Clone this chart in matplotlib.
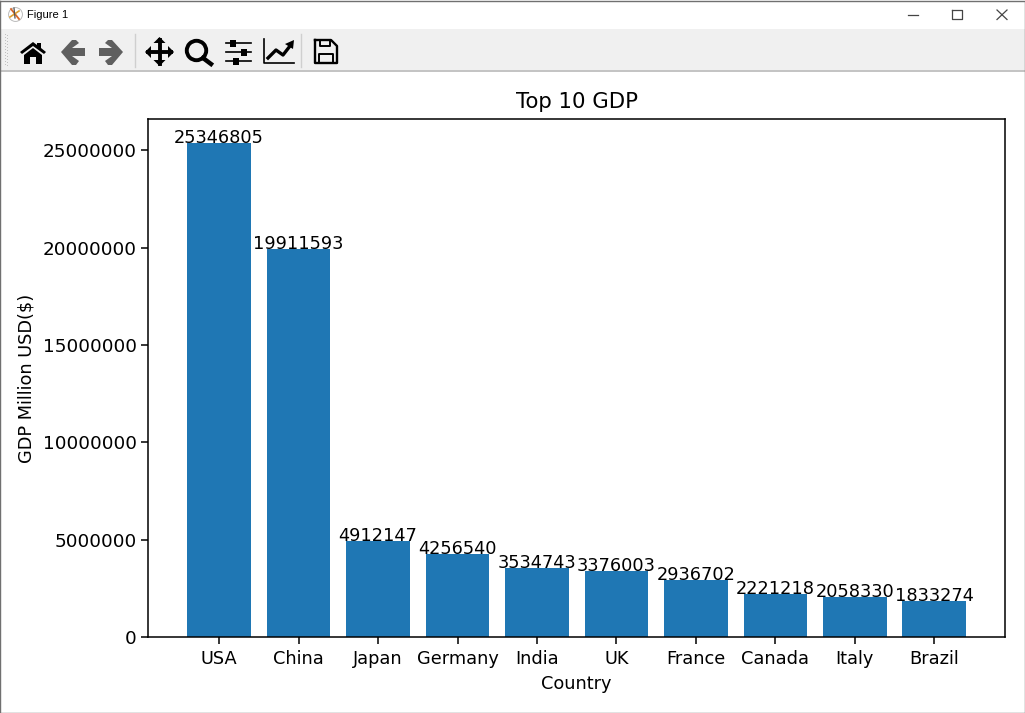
import matplotlib
matplotlib.use('Agg')
from matplotlib import pyplot as plt
from matplotlib.patches import Rectangle, Polygon

countries = ['USA', 'China', 'Japan', 'Germany', 'India', 'UK', 'France', 'Canada', 'Italy', 'Brazil']
gdp = [25346805, 19911593, 4912147, 4256540, 3534743, 3376003, 2936702, 2221218, 2058330, 1833274]

W = 1025
H = 713

plt.rcParams['font.size'] = 12.8

fig = plt.figure(figsize=(W / 100, H / 100), dpi=100, facecolor='white')
ax = fig.add_axes([148.4 / W, 1 - 637 / H, (1005 - 148.4) / W, (637 - 118.8) / H])

ax.bar(countries, gdp)
for i in range(len(countries)):
    ax.text(i, gdp[i], str(gdp[i]), ha='center', fontsize=12.8)

ax.ticklabel_format(axis='y', style='plain')
ax.set_title('Top 10 GDP', fontsize=15.3, pad=8)
ax.set_xlabel('Country', labelpad=5)
ax.set_ylabel('GDP Million USD($)', labelpad=5)
ax.tick_params(length=4.9, width=1.1)
ax.tick_params(axis='x', pad=4.2)
ax.tick_params(axis='y', labelsize=13.2)
for s in ax.spines.values():
    s.set_linewidth(1.1)


def px_rect(x, y, w, h, color):
    fig.add_artist(Rectangle((x / W, 1 - (y + h) / H), w / W, h / H, transform=fig.transFigure,
                             facecolor=color, edgecolor='none'))


def px_line(xs, ys, color='black', lw=1.0):
    fig.add_artist(plt.Line2D([x / W for x in xs], [1 - y / H for y in ys], transform=fig.transFigure,
                              color=color, lw=lw))


def px_poly(pts, color):
    fig.add_artist(Polygon([(x / W, 1 - y / H) for x, y in pts], closed=True, transform=fig.transFigure,
                           facecolor=color, edgecolor='none'))


# window title bar
px_rect(0, 0, W, 29, 'white')
px_rect(0, 29, W, 41, '#f0f0f0')
px_rect(0, 70, W, 1.6, '#c4c4c4')
px_line([0, W, W, 0, 0], [0.5, 0.5, H - 0.5, H - 0.5, 0.5], '#707070', 1.0)
fig.text(27 / W, 1 - 15.5 / H, 'Figure 1', fontsize=8, family='Liberation Sans', va='center')
fig.add_artist(plt.Line2D([15 / W], [1 - 14 / H], marker='o', ms=10, mfc='white', mec='#bbbbbb', mew=0.7,
                          transform=fig.transFigure))
px_line([11, 19], [9, 19], '#d9682a', 1.3)
px_line([10, 19], [17, 11], '#e0a030', 1.2)
px_line([14, 15], [8, 18], '#555555', 0.9)

# window buttons
px_line([908, 918], [14.5, 14.5], '#444444', 0.9)
px_line([952, 962, 962, 952, 952], [10, 10, 19, 19, 10], '#444444', 0.9)
px_line([997, 1007], [10, 19.5], '#444444', 0.9)
px_line([997, 1007], [19.5, 10], '#444444', 0.9)

# toolbar grip and separators
for gy in range(34, 66, 3):
    px_rect(5, gy, 1, 1, '#c0c0c0')
    px_rect(7, gy + 1, 1, 1, '#c0c0c0')
for sx in [135, 301]:
    px_line([sx, sx], [34, 67], '#cfcfcf', 1.0)

# home
px_poly([(20, 52), (33, 42), (37, 45), (37, 43), (41, 43), (41, 48), (46, 52), (44, 54), (33, 46), (22, 54)], 'black')
px_poly([(24, 55), (33, 48), (42, 55), (42, 64), (36, 64), (36, 57), (30, 57), (30, 64), (24, 64)], 'black')
# back and forward
px_poly([(61, 52), (72, 40), (76, 40), (79, 43), (72, 48), (85, 48), (85, 56), (72, 56), (79, 61), (76, 65), (72, 65)], '#5f5f5f')
px_poly([(123, 52), (112, 40), (108, 40), (105, 43), (112, 48), (99, 48), (99, 56), (112, 56), (105, 61), (108, 65), (112, 65)], '#5f5f5f')
# pan
px_line([148, 171], [52, 52], 'black', 2.8)
px_line([159.5, 159.5], [40, 64], 'black', 2.8)
for a, b, c in [((145, 52), (151, 46), (151, 58)), ((174, 52), (168, 46), (168, 58)),
                ((159.5, 37), (153.5, 43), (165.5, 43)), ((159.5, 66), (153.5, 60), (165.5, 60))]:
    px_poly([a, b, c], 'black')
# zoom
fig.add_artist(plt.Line2D([196 / W], [1 - 50 / H], marker='o', ms=14, mfc='none', mec='black', mew=2.8,
                          transform=fig.transFigure))
px_line([203, 211], [58, 64], 'black', 3.2)
# subplots
for yy, kx in [(43, 233), (52, 244), (61, 236)]:
    px_line([226, 251], [yy, yy], 'black', 1.2)
    px_rect(kx - 3, yy - 3.5, 6, 7, 'black')
# edit axes
px_line([263.5, 263.5, 294], [39, 63, 63], 'black', 1.2)
px_line([268, 276, 283, 290], [58, 50, 55, 46], 'black', 2.4)
px_poly([(285, 44), (294, 40), (293, 49)], 'black')
# save
px_line([315, 331, 337, 337, 315, 315], [40, 40, 46, 63, 63, 40], 'black', 1.7)
px_line([320, 320, 330, 330, 320], [40, 46, 46, 40, 40], 'black', 1.4)
px_line([319, 319, 333, 333], [63, 54, 54, 63], 'black', 1.4)

fig.savefig('out.png', dpi=100)
